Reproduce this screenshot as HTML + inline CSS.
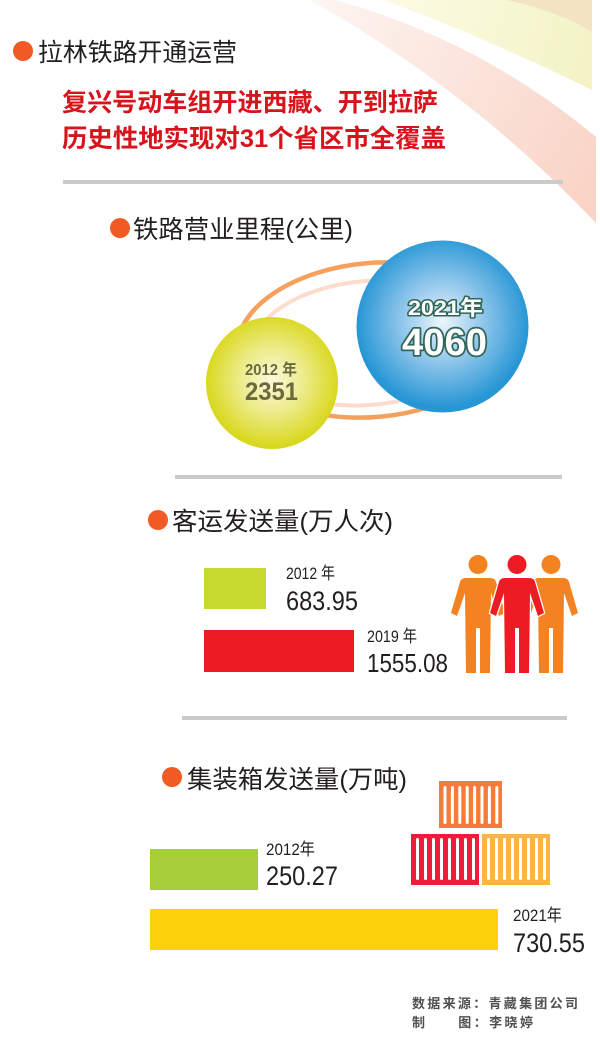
<!DOCTYPE html>
<html><head><meta charset="utf-8">
<style>
html,body{margin:0;padding:0;background:#fff;}
svg{display:block;}
</style></head>
<body>
<svg width="600" height="1043" viewBox="0 0 600 1043" xmlns="http://www.w3.org/2000/svg">
<defs>
  <linearGradient id="gPink" gradientUnits="userSpaceOnUse" x1="300" y1="0" x2="596" y2="180">
    <stop offset="0" stop-color="#fef6f3"/>
    <stop offset="1" stop-color="#f9d4c6"/>
  </linearGradient>
  <linearGradient id="gYel" gradientUnits="userSpaceOnUse" x1="383" y1="0" x2="592" y2="60">
    <stop offset="0" stop-color="#fdfbe4"/>
    <stop offset="1" stop-color="#f3f3c6"/>
  </linearGradient>
  <radialGradient id="gBlue" cx="0.5" cy="0.47" r="0.5">
    <stop offset="0" stop-color="#eef6fc"/>
    <stop offset="0.4" stop-color="#9fcdee"/>
    <stop offset="1" stop-color="#2796d5"/>
  </radialGradient>
  <radialGradient id="gYc" cx="0.5" cy="0.48" r="0.5">
    <stop offset="0" stop-color="#faf9dc"/>
    <stop offset="0.5" stop-color="#eceb88"/>
    <stop offset="1" stop-color="#d9d81f"/>
  </radialGradient>
</defs>
<rect width="600" height="1043" fill="#ffffff"/>

<!-- background bands -->
<path d="M310,0 L335,0 Q480,40 596,137 L596,223 Q470,90 310,0 Z" fill="url(#gPink)"/>
<path d="M383,0 L507,0 Q560,12 592,32 L592,90 Q480,35 383,0 Z" fill="url(#gYel)"/>
<path d="M507,0 L592,0 L592,32 Q560,12 507,0 Z" fill="#f2e3c3"/>

<!-- header -->
<circle cx="23" cy="51" r="10" fill="#f15a24"/>
<text x="38" y="61" font-family="'Liberation Sans','Noto Sans CJK SC',sans-serif" font-size="25" fill="#231f20" textLength="199" lengthAdjust="spacingAndGlyphs">拉林铁路开通运营</text>

<text x="62" y="111" font-family="'Liberation Sans','Noto Sans CJK SC',sans-serif" font-size="25" font-weight="700" fill="#d7141c" textLength="376" lengthAdjust="spacingAndGlyphs">复兴号动车组开进西藏、开到拉萨</text>
<text x="62" y="147" font-family="'Liberation Sans','Noto Sans CJK SC',sans-serif" font-size="25" font-weight="700" fill="#d7141c" textLength="384" lengthAdjust="spacingAndGlyphs">历史性地实现对31个省区市全覆盖</text>

<rect x="63" y="180" width="500" height="4" fill="#cbcbcb"/>

<!-- section 2 -->
<circle cx="120" cy="228" r="10" fill="#f15a24"/>
<text x="133" y="238" font-family="'Liberation Sans','Noto Sans CJK SC',sans-serif" font-size="25" fill="#231f20" textLength="220" lengthAdjust="spacingAndGlyphs">铁路营业里程(公里)</text>

<ellipse cx="373" cy="340" rx="136" ry="77" transform="rotate(-5 373 340)" fill="none" stroke="#f5a05c" stroke-width="4.5"/>
<ellipse cx="368" cy="343" rx="116" ry="62" transform="rotate(-5 368 343)" fill="none" stroke="#fcdccc" stroke-width="4"/>

<circle cx="272" cy="383" r="66" fill="url(#gYc)"/>
<circle cx="442.5" cy="326.5" r="86" fill="url(#gBlue)"/>

<text x="245" y="375" font-family="'Liberation Sans','Noto Sans CJK SC',sans-serif" font-size="16" font-weight="700" fill="#6b6a3e" textLength="52" lengthAdjust="spacingAndGlyphs">2012 年</text>
<text x="245" y="400" font-family="'Liberation Sans',sans-serif" font-size="25" font-weight="700" fill="#6b6a3e" textLength="53" lengthAdjust="spacingAndGlyphs">2351</text>

<text x="408" y="315" font-family="'Liberation Sans','Noto Sans CJK SC',sans-serif" font-size="21" font-weight="700" fill="#ffffff" stroke="#2f6658" stroke-width="3" paint-order="stroke" stroke-linejoin="round" textLength="75" lengthAdjust="spacingAndGlyphs">2021年</text>
<text x="402" y="355" font-family="'Liberation Sans',sans-serif" font-size="38" font-weight="700" fill="#ffffff" stroke="#2f6658" stroke-width="3.5" paint-order="stroke" stroke-linejoin="round" textLength="85" lengthAdjust="spacingAndGlyphs">4060</text>

<rect x="175" y="475" width="387" height="4" fill="#cbcbcb"/>

<!-- section 3 -->
<circle cx="158" cy="520" r="10" fill="#f15a24"/>
<text x="172" y="530" font-family="'Liberation Sans','Noto Sans CJK SC',sans-serif" font-size="25" fill="#231f20" textLength="221" lengthAdjust="spacingAndGlyphs">客运发送量(万人次)</text>

<rect x="204" y="568" width="62" height="41" fill="#c6d92e"/>
<text x="286" y="579" font-family="'Liberation Sans','Noto Sans CJK SC',sans-serif" font-size="17" fill="#231f20" textLength="49" lengthAdjust="spacingAndGlyphs">2012 年</text>
<text x="286" y="610" font-family="'Liberation Sans',sans-serif" font-size="27" fill="#231f20" textLength="72" lengthAdjust="spacingAndGlyphs">683.95</text>

<rect x="204" y="630" width="150" height="42" fill="#ed1c24"/>
<text x="367" y="642" font-family="'Liberation Sans','Noto Sans CJK SC',sans-serif" font-size="17" fill="#231f20" textLength="50" lengthAdjust="spacingAndGlyphs">2019 年</text>
<text x="367" y="672" font-family="'Liberation Sans',sans-serif" font-size="26" fill="#231f20" textLength="81" lengthAdjust="spacingAndGlyphs">1555.08</text>

<!-- people -->
<g fill="#f58220">
  <circle cx="478" cy="564.5" r="9.5"/>
  <path d="M466,578 L490,578 Q495,578 496,582 L505,613 L499,616 L491,593 L490,673 L480,673 L480,628 L476,628 L476,673 L466,673 L465,593 L457,616 L451,613 L460,582 Q461,578 466,578 Z"/>
  <circle cx="551" cy="564.5" r="9.5"/>
  <path d="M539,578 L563,578 Q568,578 569,582 L578,613 L572,616 L564,593 L563,673 L553,673 L553,628 L549,628 L549,673 L539,673 L538,593 L530,616 L524,613 L533,582 Q534,578 539,578 Z"/>
</g>
<g fill="#ed1c24" stroke="#ffffff" stroke-width="2.5" paint-order="stroke" stroke-linejoin="round">
  <circle cx="517" cy="564.5" r="9.5"/>
  <path d="M505,578 L529,578 Q534,578 535,582 L544,613 L538,616 L530,593 L529,673 L519,673 L519,628 L515,628 L515,673 L505,673 L504,593 L496,616 L490,613 L499,582 Q500,578 505,578 Z"/>
</g>

<rect x="182" y="716" width="385" height="4" fill="#cbcbcb"/>

<!-- section 4 -->
<circle cx="172" cy="777" r="10" fill="#f15a24"/>
<text x="187" y="788" font-family="'Liberation Sans','Noto Sans CJK SC',sans-serif" font-size="25" fill="#231f20" textLength="220" lengthAdjust="spacingAndGlyphs">集装箱发送量(万吨)</text>

<!-- containers -->
<rect x="439" y="781" width="63" height="47" fill="#f47b3b"/>
<g fill="#ffffff">
  <rect x="443.5" y="786" width="3" height="38" rx="1.5"/>
  <rect x="450.9" y="786" width="3" height="38" rx="1.5"/>
  <rect x="458.3" y="786" width="3" height="38" rx="1.5"/>
  <rect x="465.7" y="786" width="3" height="38" rx="1.5"/>
  <rect x="473.1" y="786" width="3" height="38" rx="1.5"/>
  <rect x="480.5" y="786" width="3" height="38" rx="1.5"/>
  <rect x="487.9" y="786" width="3" height="38" rx="1.5"/>
  <rect x="495.3" y="786" width="3" height="38" rx="1.5"/>
</g>
<rect x="411" y="834" width="68" height="51" fill="#ec1c3a"/>
<g fill="#ffffff">
  <rect x="416" y="838" width="3" height="42" rx="1.5"/>
  <rect x="424" y="838" width="3" height="42" rx="1.5"/>
  <rect x="432" y="838" width="3" height="42" rx="1.5"/>
  <rect x="440" y="838" width="3" height="42" rx="1.5"/>
  <rect x="448" y="838" width="3" height="42" rx="1.5"/>
  <rect x="456" y="838" width="3" height="42" rx="1.5"/>
  <rect x="464" y="838" width="3" height="42" rx="1.5"/>
  <rect x="472" y="838" width="3" height="42" rx="1.5"/>
</g>
<rect x="482" y="834" width="68" height="51" fill="#fcb442"/>
<g fill="#ffffff">
  <rect x="487" y="838" width="3" height="42" rx="1.5"/>
  <rect x="495" y="838" width="3" height="42" rx="1.5"/>
  <rect x="503" y="838" width="3" height="42" rx="1.5"/>
  <rect x="511" y="838" width="3" height="42" rx="1.5"/>
  <rect x="519" y="838" width="3" height="42" rx="1.5"/>
  <rect x="527" y="838" width="3" height="42" rx="1.5"/>
  <rect x="535" y="838" width="3" height="42" rx="1.5"/>
  <rect x="543" y="838" width="3" height="42" rx="1.5"/>
</g>

<rect x="150" y="849" width="108" height="41" fill="#a6ce39"/>
<text x="266" y="855" font-family="'Liberation Sans','Noto Sans CJK SC',sans-serif" font-size="17" fill="#231f20" textLength="49" lengthAdjust="spacingAndGlyphs">2012年</text>
<text x="266" y="885" font-family="'Liberation Sans',sans-serif" font-size="27" fill="#231f20" textLength="72" lengthAdjust="spacingAndGlyphs">250.27</text>

<rect x="150" y="909" width="348" height="41" fill="#fed20a"/>
<text x="513" y="921" font-family="'Liberation Sans','Noto Sans CJK SC',sans-serif" font-size="17" fill="#231f20" textLength="49" lengthAdjust="spacingAndGlyphs">2021年</text>
<text x="513" y="952" font-family="'Liberation Sans',sans-serif" font-size="27" fill="#231f20" textLength="72" lengthAdjust="spacingAndGlyphs">730.55</text>

<!-- footer -->
<text x="412" y="1008" font-family="'Liberation Sans','Noto Sans CJK SC',sans-serif" font-size="13" font-weight="700" fill="#505050" textLength="166" lengthAdjust="spacing">数据来源：青藏集团公司</text>
<text x="412" y="1027" font-family="'Liberation Sans','Noto Sans CJK SC',sans-serif" font-size="13" font-weight="700" fill="#505050" textLength="121" lengthAdjust="spacing">制　　图：李晓婷</text>
</svg>
</body></html>
